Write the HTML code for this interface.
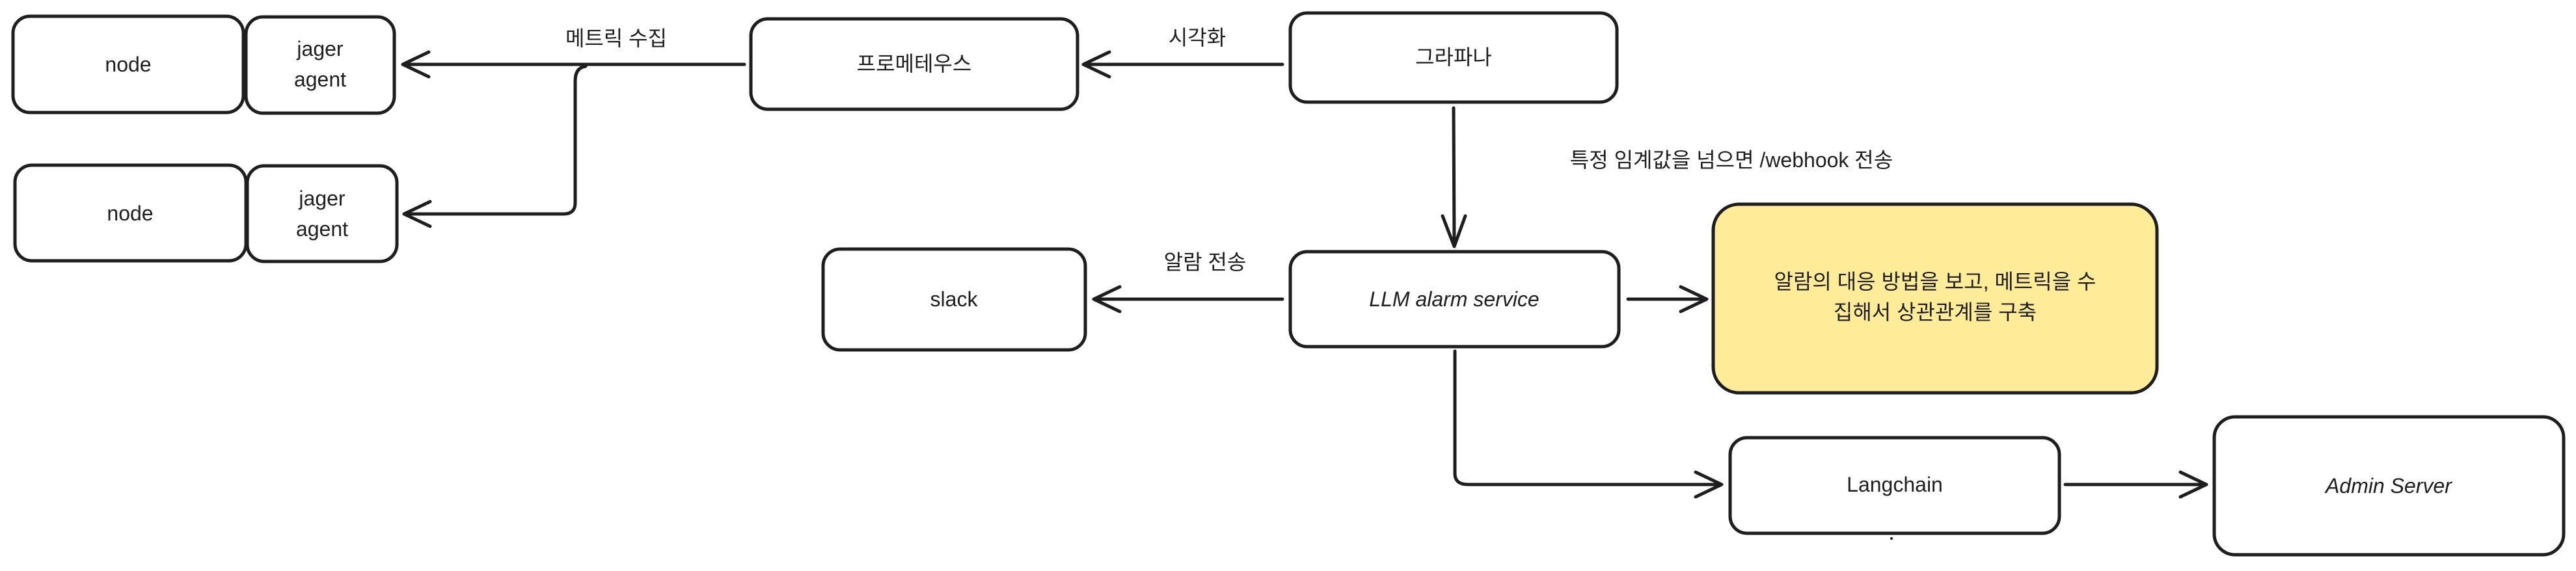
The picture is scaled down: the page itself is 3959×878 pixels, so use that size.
<!DOCTYPE html>
<html><head><meta charset="utf-8"><style>
html,body{margin:0;padding:0;background:#fff;}
svg text{font-family:"Liberation Sans","Noto Sans CJK KR",sans-serif;fill:#1e1e1e;font-size:32px;text-anchor:middle;dominant-baseline:central;}
</style></head><body>
<svg width="3959" height="873" viewBox="0 0 3959 873" xmlns="http://www.w3.org/2000/svg">
<g fill="#fff" stroke="#1e1e1e" stroke-width="5">
<rect x="20" y="25" width="354" height="148" rx="26"/>
<rect x="378" y="26" width="228" height="148" rx="26"/>
<rect x="23" y="254" width="355" height="147" rx="26"/>
<rect x="380" y="255" width="230" height="147" rx="26"/>
<rect x="1154" y="29" width="502" height="139" rx="26"/>
<rect x="1983" y="20" width="502" height="137" rx="26"/>
<rect x="1265" y="383" width="403" height="155" rx="26"/>
<rect x="1983" y="387" width="505" height="146" rx="26"/>
<rect x="2633" y="314" width="682" height="290" rx="40" fill="#ffec99"/>
<rect x="2659" y="673" width="506" height="147" rx="26"/>
<rect x="3403" y="641" width="537" height="212" rx="32"/>
</g>
<g fill="none" stroke="#1e1e1e" stroke-width="5" stroke-linecap="round" stroke-linejoin="round">
<path d="M1971 99 L1665 99 M1705 80 L1665 99 L1705 118"/>
<path d="M1144 99 L619 99 M659 80 L619 99 L659 118"/>
<path d="M900 102 Q884 104 884 125 L884 312 Q884 329 866 329 L621 329 M661 310 L621 329 L661 348"/>
<path d="M1971 460 L1681 460 M1721 441 L1681 460 L1721 479"/>
<path d="M2234 166 L2235 379 M2217 332 L2235 379 L2252 332"/>
<path d="M2502 460 L2623 460 M2583 441 L2623 460 L2583 479"/>
<path d="M2236 540 L2236 728 Q2236 745 2256 745 L2646 745 M2606 726 L2646 745 L2606 764"/>
<path d="M3174 745 L3391 745 M3351 726 L3391 745 L3351 764"/>
</g>
<circle cx="2907" cy="828" r="2" fill="#1e1e1e"/>
<text x="197" y="99">node</text>
<text x="492" y="75">jager</text>
<text x="492" y="122">agent</text>
<text x="200" y="328">node</text>
<text x="495" y="305">jager</text>
<text x="495" y="352">agent</text>
<text x="1405" y="98">프로메테우스</text>
<text x="2234" y="88">그라파나</text>
<text x="1466" y="460">slack</text>
<text x="2235" y="460" font-style="italic">LLM alarm service</text>
<text x="2912" y="745">Langchain</text>
<text x="3671" y="747" font-style="italic">Admin Server</text>
<text x="947" y="59">메트릭 수집</text>
<text x="1840" y="58">시각화</text>
<text x="1852" y="403">알람 전송</text>
<text x="2661" y="246">특정 임계값을 넘으면 /webhook 전송</text>
<text x="2974" y="433">알람의 대응 방법을 보고, 메트릭을 수</text>
<text x="2974" y="480">집해서 상관관계를 구축</text>
</svg>
</body></html>
